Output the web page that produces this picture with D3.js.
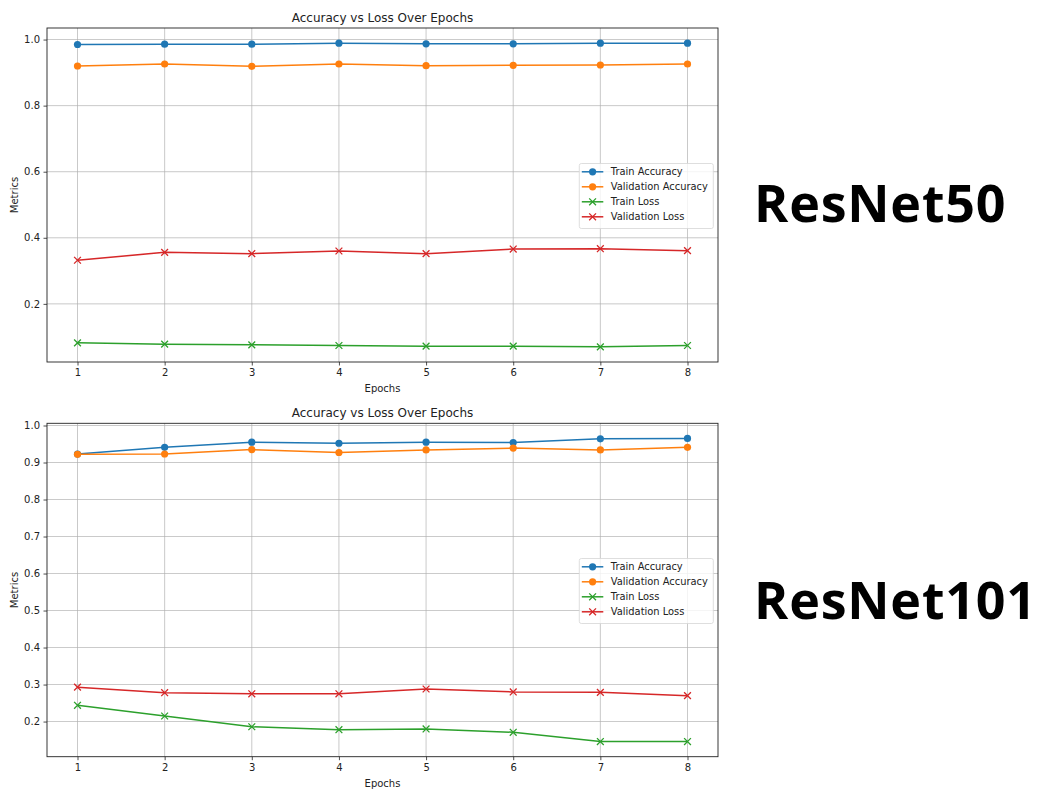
<!DOCTYPE html>
<html>
<head>
<meta charset="utf-8">
<script src="https://cdn.jsdelivr.net/npm/d3@7"></script>
<style>
  html, body { margin: 0; padding: 0; background: #fff; }
</style>
</head>
<body>
<svg id="chart" width="1038" height="789"></svg>
<script>
// Training history per epoch for the two backbones
const epochs = [1, 2, 3, 4, 5, 6, 7, 8];

const resnet50TrainAcc = [0.985, 0.986, 0.986, 0.989, 0.987, 0.987, 0.989, 0.989];
const resnet50ValAcc   = [0.920, 0.926, 0.919, 0.926, 0.921, 0.922, 0.923, 0.926];
const resnet50TrainLoss = [0.082, 0.078, 0.076, 0.074, 0.072, 0.072, 0.070, 0.074];
const resnet50ValLoss   = [0.332, 0.356, 0.352, 0.360, 0.352, 0.366, 0.367, 0.361];

const resnet101TrainAcc = [0.923, 0.941, 0.955, 0.952, 0.955, 0.954, 0.964, 0.965];
const resnet101ValAcc   = [0.922, 0.923, 0.935, 0.927, 0.934, 0.939, 0.934, 0.941];
const resnet101TrainLoss = [0.244, 0.215, 0.186, 0.178, 0.180, 0.171, 0.146, 0.146];
const resnet101ValLoss   = [0.293, 0.278, 0.275, 0.275, 0.288, 0.280, 0.279, 0.270];

const resnet50Ticks = [0.2, 0.4, 0.6, 0.8, 1.0];
const resnet101Ticks = [0.2, 0.3, 0.4, 0.5, 0.6, 0.7, 0.8, 0.9, 1.0];

const seriesNames = ["Train Accuracy", "Validation Accuracy", "Train Loss", "Validation Loss"];
const seriesColors = ["#1f77b4", "#ff7f0e", "#2ca02c", "#d62728"];
const seriesMarkers = ["circle", "circle", "x", "x"];

const FONT = "DejaVu Sans, sans-serif";
const svg = d3.select("#chart");

function drawPanel(opts) {
  const { top, bottom, left, right, series, yTicks, modelName, nameY } = opts;
  const g = svg.append("g").style("font-family", FONT);

  // axis ranges with a 5% pad on each side
  const allVals = series.flat();
  const lo = d3.min(allVals), hi = d3.max(allVals);
  const pad = (hi - lo) * 0.05;
  const x = d3.scaleLinear().domain([0.65, 8.35]).range([left, right]);
  const y = d3.scaleLinear().domain([lo - pad, hi + pad]).range([bottom, top]);

  // grid
  g.append("g").selectAll("line").data(epochs).join("line")
    .attr("x1", d => x(d)).attr("x2", d => x(d))
    .attr("y1", top).attr("y2", bottom)
    .attr("stroke", "#b0b0b0").attr("stroke-width", 0.8).attr("opacity", 0.85);
  g.append("g").selectAll("line").data(yTicks).join("line")
    .attr("x1", left).attr("x2", right)
    .attr("y1", d => y(d)).attr("y2", d => y(d))
    .attr("stroke", "#b0b0b0").attr("stroke-width", 0.8).attr("opacity", 0.85);

  // axes
  const xAxis = g.append("g").attr("transform", `translate(0,${bottom})`)
    .call(d3.axisBottom(x).tickValues(epochs).tickFormat(d3.format("d")).tickSize(3.5).tickPadding(3.5));
  const yAxis = g.append("g").attr("transform", `translate(${left},0)`)
    .call(d3.axisLeft(y).tickValues(yTicks).tickFormat(d3.format(".1f")).tickSize(3.5).tickPadding(3.5));
  [xAxis, yAxis].forEach(a => {
    a.attr("font-family", FONT).attr("font-size", 10);
    a.select(".domain").remove();
    a.selectAll("line").attr("stroke", "#222").attr("stroke-width", 0.8);
    a.selectAll("text").attr("fill", "#222");
  });

  // frame
  g.append("rect").attr("x", left).attr("y", top)
    .attr("width", right - left).attr("height", bottom - top)
    .attr("fill", "none").attr("stroke", "#222").attr("stroke-width", 0.9);

  // lines and markers
  const line = d3.line().x((d, i) => x(epochs[i])).y(d => y(d));
  series.forEach((vals, si) => {
    const color = seriesColors[si];
    g.append("path").datum(vals).attr("d", line)
      .attr("fill", "none").attr("stroke", color).attr("stroke-width", 1.5);
    const mk = g.append("g");
    vals.forEach((v, i) => drawMarker(mk, seriesMarkers[si], x(epochs[i]), y(v), color));
  });

  // title and axis labels
  const cx = (left + right) / 2;
  g.append("text").attr("x", cx).attr("y", top - 6.5).attr("text-anchor", "middle")
    .attr("font-size", 12).attr("fill", "#222").text("Accuracy vs Loss Over Epochs");
  g.append("text").attr("x", cx).attr("y", bottom + 30).attr("text-anchor", "middle")
    .attr("font-size", 10).attr("fill", "#222").text("Epochs");
  g.append("text").attr("transform", `translate(${left - 29},${(top + bottom) / 2}) rotate(-90)`)
    .attr("text-anchor", "middle").attr("font-size", 10).attr("fill", "#222").text("Metrics");

  // legend
  const legX = 579.3, legTop = opts.legendTop, rowH = 15;
  const lg = g.append("g");
  lg.append("rect").attr("x", legX).attr("y", legTop)
    .attr("width", 134).attr("height", rowH * 4 + 5)
    .attr("rx", 2).attr("fill", "#fff").attr("fill-opacity", 0.8)
    .attr("stroke", "#d5d5d5").attr("stroke-width", 0.8);
  seriesNames.forEach((name, i) => {
    const yy = legTop + 8.3 + i * rowH;
    lg.append("line").attr("x1", legX + 2.5).attr("x2", legX + 24)
      .attr("y1", yy).attr("y2", yy).attr("stroke", seriesColors[i]).attr("stroke-width", 1.5);
    drawMarker(lg, seriesMarkers[i], legX + 13.3, yy, seriesColors[i]);
    lg.append("text").attr("x", legX + 31.5).attr("y", yy + 3.4)
      .attr("font-size", 9.9).attr("fill", "#222").text(name);
  });

  // model name beside the panel
  svg.append("text").attr("x", 754).attr("y", nameY)
    .style("font-family", "'Open Sans', sans-serif").style("font-weight", 700)
    .style("font-size", "52px").attr("fill", "#000")
    .style("letter-spacing", "0.8px").text(modelName);
}

function drawMarker(sel, type, cx, cy, color) {
  if (type === "circle") {
    sel.append("circle").attr("cx", cx).attr("cy", cy).attr("r", 3.6).attr("fill", color);
  } else {
    const s = 3.4;
    sel.append("path")
      .attr("d", `M${cx - s},${cy - s}L${cx + s},${cy + s}M${cx - s},${cy + s}L${cx + s},${cy - s}`)
      .attr("stroke", color).attr("stroke-width", 1.3).attr("fill", "none");
  }
}

drawPanel({
  top: 28, bottom: 362, left: 47, right: 718,
  series: [resnet50TrainAcc, resnet50ValAcc, resnet50TrainLoss, resnet50ValLoss],
  yTicks: resnet50Ticks, modelName: "ResNet50", nameY: 222, legendTop: 163.5
});
drawPanel({
  top: 423.3, bottom: 756.7, left: 47, right: 718,
  series: [resnet101TrainAcc, resnet101ValAcc, resnet101TrainLoss, resnet101ValLoss],
  yTicks: resnet101Ticks, modelName: "ResNet101", nameY: 618.5, legendTop: 558.5
});
</script>
</body>
</html>
